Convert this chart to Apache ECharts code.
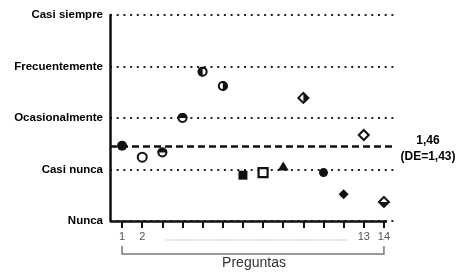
<!DOCTYPE html>
<html>
<head>
<meta charset="utf-8">
<script src="https://cdn.jsdelivr.net/npm/echarts@6/dist/echarts.min.js"></script>
<style>
  html, body { margin: 0; padding: 0; background: #fff; }
  #main { width: 461px; height: 278px; }
</style>
</head>
<body>
<div id="main"></div>
<script>
// datos
var preguntas = [1, 2, 3, 4, 5, 6, 7, 8, 9, 10, 11, 12, 13, 14];
var valores = [1.46, 1.24, 1.33, 2.0, 2.9, 2.62, 0.89, 0.94, 1.05, 2.39, 0.94, 0.52, 1.67, 0.37];
var niveles = ["Nunca", "Casi nunca", "Ocasionalmente", "Frecuentemente", "Casi siempre"];
var etiquetasX = [1, 2, 13, 14];
var media = 1.46;
var desviacion = 1.43;
// tipo de marcador de cada pregunta
var marcadores = ["circulo", "circuloAbierto", "circuloArriba", "circuloArriba", "circuloIzq", "circuloDer",
    "cuadrado", "cuadradoAbierto", "triangulo", "romboDer", "circuloChico", "rombo", "romboAbierto", "romboAbajo"];

var negro = "#111";
var myChart = echarts.init(document.getElementById("main"));

function renderItem(params, api) {
    var p = api.coord([api.value(0), api.value(1)]);
    var x = p[0], y = p[1];
    var tipo = marcadores[params.dataIndex];
    var r = 5;
    var relleno = { fill: negro };
    var abierto = { fill: "#fff", stroke: negro, lineWidth: 2 };
    var hijos = [];
    if (tipo == "circulo" || tipo == "circuloChico") {
        hijos.push({ type: "circle", shape: { cx: x, cy: y, r: tipo == "circulo" ? 5 : 4.5 }, style: relleno });
    } else if (tipo == "circuloAbierto") {
        hijos.push({ type: "circle", shape: { cx: x, cy: y, r: 4.5 }, style: abierto });
    } else if (tipo.indexOf("circulo") == 0) {
        var ang = { circuloArriba: [Math.PI, 2 * Math.PI], circuloIzq: [Math.PI / 2, 1.5 * Math.PI], circuloDer: [-Math.PI / 2, Math.PI / 2] }[tipo];
        hijos.push({ type: "circle", shape: { cx: x, cy: y, r: r - 1 }, style: abierto });
        hijos.push({ type: "sector", shape: { cx: x, cy: y, r0: 0, r: r, startAngle: ang[0], endAngle: ang[1] }, style: relleno });
    } else if (tipo == "cuadrado") {
        hijos.push({ type: "rect", shape: { x: x - 4.5, y: y - 4.5, width: 9, height: 9 }, style: relleno });
    } else if (tipo == "cuadradoAbierto") {
        hijos.push({ type: "rect", shape: { x: x - 4.5, y: y - 4.5, width: 9, height: 9 }, style: { fill: "#fff", stroke: negro, lineWidth: 2.2 } });
    } else if (tipo == "triangulo") {
        hijos.push({ type: "polygon", shape: { points: [[x, y - 5.5], [x + 5.5, y + 3.5], [x - 5.5, y + 3.5]] }, style: relleno });
    } else {
        var d = 5;
        var pts = [[x, y - d], [x + d, y], [x, y + d], [x - d, y]];
        if (tipo == "rombo") {
            hijos.push({ type: "polygon", shape: { points: pts }, style: relleno });
        } else {
            hijos.push({ type: "polygon", shape: { points: pts }, style: abierto });
            if (tipo == "romboDer") {
                hijos.push({ type: "polygon", shape: { points: [[x, y - d], [x + d, y], [x, y + d]] }, style: relleno });
            } else if (tipo == "romboAbajo") {
                hijos.push({ type: "polygon", shape: { points: [[x - d, y], [x + d, y], [x, y + d]] }, style: relleno });
            }
        }
    }
    return { type: "group", children: hijos };
}

var option = {
    backgroundColor: "#fff",
    animation: false,
    grid: { left: 110, right: 67, top: 15, bottom: 57 },
    xAxis: {
        type: "value",
        min: 0.4,
        max: 14.5,
        axisLine: { show: false },
        splitLine: { show: false },
        axisTick: {
            show: true,
            customValues: preguntas,
            length: 7,
            lineStyle: { color: negro, width: 2 }
        },
        axisLabel: {
            customValues: etiquetasX,
            color: "#555",
            fontSize: 11,
            fontFamily: "Liberation Sans",
            margin: 10
        }
    },
    yAxis: {
        type: "value",
        min: 0,
        max: 4,
        interval: 1,
        axisLine: { show: true, lineStyle: { color: negro, width: 2.5 } },
        axisTick: { show: false },
        axisLabel: {
            formatter: function (v) { return niveles[v]; },
            color: "#000",
            fontWeight: "bold",
            fontSize: 11.5,
            fontFamily: "Liberation Sans",
            margin: 7
        },
        splitLine: {
            show: true,
            lineStyle: { color: "#222", width: 2, type: [2, 4.7] }
        }
    },
    series: [{
        type: "custom",
        renderItem: renderItem,
        data: preguntas.map(function (p, i) { return [p, valores[i]]; }),
        z: 5,
        markLine: {
            silent: true,
            symbol: "none",
            label: { show: false },
            data: [
                { yAxis: media, lineStyle: { color: negro, width: 2.5, type: [7, 4] } },
                [{ coord: [0.4, 0], lineStyle: { color: negro, width: 2.5, type: "solid" } }, { coord: [14.15, 0] }]
            ]
        }
    }]
};
myChart.setOption(option);

// anotaciones fuera del area de trazado
var p1 = myChart.convertToPixel({ seriesIndex: 0 }, [1, 0]);
var p14 = myChart.convertToPixel({ seriesIndex: 0 }, [14, 0]);
var pm = myChart.convertToPixel({ seriesIndex: 0 }, [14.5, media]);
myChart.setOption({
    graphic: [
        {
            type: "line",
            shape: { x1: p1[0] + 44, y1: p1[1] + 19, x2: p14[0] - 35, y2: p14[1] + 19 },
            style: { stroke: "#999", lineWidth: 1, lineDash: [1, 1.5] }
        },
        {
            type: "polyline",
            shape: { points: [[p1[0], p1[1] + 25], [p1[0], p1[1] + 33], [p14[0], p14[1] + 33], [p14[0], p14[1] + 25]] },
            style: { stroke: "#777", lineWidth: 1.5, fill: null }
        },
        {
            type: "text",
            x: (p1[0] + p14[0]) / 2 + 1,
            y: p1[1] + 42,
            style: { text: "Preguntas", fill: "#333", font: "14px 'Liberation Sans'", textAlign: "center", textVerticalAlign: "middle" }
        },
        {
            type: "text",
            x: pm[0] + 34,
            y: pm[1] - 5,
            style: { text: "1,46", fill: "#000", font: "bold 12px 'Liberation Sans'", textAlign: "center", textVerticalAlign: "middle" }
        },
        {
            type: "text",
            x: pm[0] + 34,
            y: pm[1] + 11,
            style: { text: "(DE=" + String(desviacion).replace(".", ",") + ")", fill: "#000", font: "bold 12px 'Liberation Sans'", textAlign: "center", textVerticalAlign: "middle" }
        }
    ]
});
</script>
</body>
</html>
